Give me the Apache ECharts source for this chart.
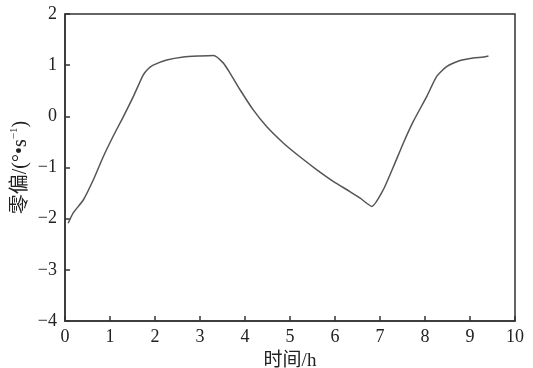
<!DOCTYPE html>
<html>
<head>
<meta charset="utf-8">
<script src="https://cdn.jsdelivr.net/npm/echarts@6/dist/echarts.min.js"></script>
<style>
  html, body { margin: 0; padding: 0; background: #fff; }
  #main { width: 533px; height: 368px; }
</style>
</head>
<body>
<div id="main"></div>
<script>
// 时间 (h)
var timeH = [0.07, 0.18, 0.41, 0.63, 0.85, 1.07, 1.30, 1.52, 1.74, 1.85, 1.96, 2.26, 2.63, 3.00, 3.30,
             3.52, 3.67, 3.89, 4.18, 4.48, 4.85, 5.22, 5.59, 5.96, 6.33, 6.56, 6.82,
             7.07, 7.30, 7.52, 7.74, 8.04, 8.26, 8.48, 8.78, 9.07, 9.30, 9.41];
// 零偏 (°/s)
var bias = [-2.09, -1.89, -1.63, -1.24, -0.79, -0.39, 0.00, 0.39, 0.81, 0.93, 1.00, 1.10, 1.16, 1.18, 1.19,
            1.04, 0.84, 0.52, 0.13, -0.20, -0.52, -0.79, -1.04, -1.27, -1.47, -1.60, -1.76,
            -1.44, -0.98, -0.52, -0.10, 0.39, 0.78, 0.97, 1.09, 1.14, 1.16, 1.18];

var xTicks = [0, 10, 1];   // min, max, interval
var yTicks = [-4, 2, 1];

var chart = echarts.init(document.getElementById('main'));
var font = "'Liberation Serif', 'Noto Sans CJK SC', serif";

var pts = timeH.map(function (t, i) { return [t, bias[i]]; });

chart.setOption({
    animation: false,
    grid: {
        left: 65, right: 18, top: 14, bottom: 47,
        containLabel: false,
        outerBoundsMode: 'none',
        show: true,
        borderColor: '#333',
        borderWidth: 1.5
    },
    xAxis: {
        type: 'value',
        min: xTicks[0], max: xTicks[1], interval: xTicks[2],
        name: '时间/h',
        nameLocation: 'middle',
        nameGap: 31,
        nameMoveOverlap: false,
        nameTextStyle: { fontFamily: font, fontSize: 19, color: '#222' },
        axisLine: { onZero: false, lineStyle: { color: '#333', width: 1.5 } },
        axisTick: { inside: true, length: 5, lineStyle: { color: '#333', width: 1.5 } },
        axisLabel: { fontFamily: font, fontSize: 18, color: '#222', margin: 7 },
        splitLine: { show: false }
    },
    yAxis: {
        type: 'value',
        min: yTicks[0], max: yTicks[1], interval: yTicks[2],
        name: '{a|零偏/(°•s}{b|−1}{a|)}',
        nameLocation: 'middle',
        nameGap: 32,
        nameMoveOverlap: false,
        nameTextStyle: {
            rich: {
                a: { fontFamily: font, fontSize: 20, color: '#222', lineHeight: 24 },
                b: { fontFamily: font, fontSize: 11, color: '#222', verticalAlign: 'top', lineHeight: 24 }
            }
        },
        axisLine: { onZero: false, lineStyle: { color: '#333', width: 1.5 } },
        axisTick: { inside: true, length: 5, lineStyle: { color: '#333', width: 1.5 } },
        axisLabel: {
            fontFamily: font, fontSize: 18, color: '#222', margin: 8,
            formatter: function (v) { return String(v).replace('-', '−'); }
        },
        splitLine: { show: false }
    },
    series: [{
        type: 'line',
        data: pts,
        symbol: 'none',
        smooth: 0.2,
        lineStyle: { color: '#555', width: 1.5 }
    }]
});
</script>
</body>
</html>
